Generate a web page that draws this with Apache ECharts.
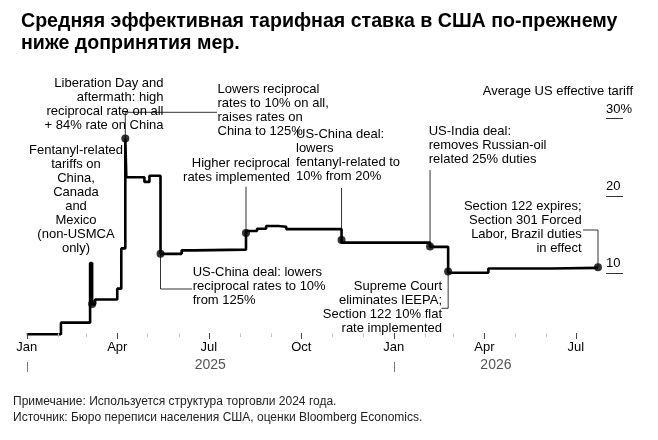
<!DOCTYPE html>
<html><head><meta charset="utf-8">
<script src="https://cdn.jsdelivr.net/npm/echarts@6/dist/echarts.min.js"></script>
<style>html,body{margin:0;padding:0;background:#fff}#c{width:658px;height:440px}</style>
</head><body><div id="c"></div>
<script>
// ---- DATA ----
const stepDates = ['2025-01-01','2025-02-04','2025-03-05','2025-03-07','2025-03-10','2025-04-01','2025-04-05','2025-04-09','2025-04-10','2025-04-28','2025-05-03','2025-05-14','2025-06-04','2025-06-16','2025-08-07','2025-08-18','2025-08-27','2025-09-08','2025-09-16','2025-11-10','2026-02-06','2026-02-24','2026-04-05','2026-06-07','2026-07-23'];
const stepValues = [2.1,3.6,11.3,6.0,6.6,8.0,13.2,27.4,22.4,21.8,22.6,12.5,12.95,13.05,15.45,15.75,16.1,16.0,15.7,13.95,13.4,10.05,10.6,10.68,10.7];
const eventDates = ['2025-03-07','2025-04-09','2025-05-14','2025-08-07','2025-11-10','2026-02-06','2026-02-24','2026-07-23'];
const eventValues = [6.0,27.4,12.5,15.2,14.3,13.45,10.2,10.75];
const xStart = '2025-01-01', xEnd = '2026-07-23';
const quarterTicks = ['2025-01-01','2025-04-01','2025-07-01','2025-10-01','2026-01-01','2026-04-01','2026-07-01'];
const quarterLabels = ['Jan','Apr','Jul','Oct','Jan','Apr','Jul'];
const monthTicks = ['2025-01-01','2025-02-01','2025-03-01','2025-04-01','2025-05-01','2025-06-01','2025-07-01','2025-08-01','2025-09-01','2025-10-01','2025-11-01','2025-12-01','2026-01-01','2026-02-01','2026-03-01','2026-04-01','2026-05-01','2026-06-01','2026-07-01'];
const yearStarts = ['2025-01-01','2026-01-01'];
const yearEnds = ['2026-01-01','2027-01-01'];
const yearLabels = ['2025','2026'];
const yTicks = [10,20,30];
const yTickLabels = ['10','20','30%'];

const titleText = 'Средняя эффективная тарифная ставка в США по-прежнему\nниже допринятия мер.';
const footText = 'Примечание: Используется структура торговли 2024 года.\nИсточник: Бюро переписи населения США, оценки Bloomberg Economics.';
const axisTitle = 'Average US effective tariff';

const notes = [
  {text:'Liberation Day and\naftermath: high\nreciprocal rate on all\n+ 84% rate on China', x:163.5, y:76.3, align:'right'},
  {text:'Fentanyl-related\ntariffs on\nChina,\nCanada\nand\nMexico\n(non-USMCA\nonly)', x:76, y:143, align:'center'},
  {text:'Lowers reciprocal\nrates to 10% on all,\nraises rates on\nChina to 125%', x:217.5, y:82.3, align:'left', ev:1, bendY:112.3, endX:217},
  {text:'US-China deal: lowers\nreciprocal rates to 10%\nfrom 125%', x:192.7, y:265.3, align:'left', ev:2, bendY:289, endX:192},
  {text:'Higher reciprocal\nrates implemented', x:290, y:156.3, align:'right', ev:3, bendY:186.7},
  {text:'US-China deal:\nlowers\nfentanyl-related to\n10% from 20%', x:296, y:127, align:'left', ev:4, bendY:188},
  {text:'US-India deal:\nremoves Russian-oil\nrelated 25% duties', x:428.7, y:124.7, align:'left', ev:5, bendY:170},
  {text:'Supreme Court\neliminates IEEPA;\nSection 122 10% flat\nrate implemented', x:442, y:279.7, align:'right', ev:6, bendY:308.3, endX:441.5},
  {text:'Section 122 expires;\nSection 301 Forced\nLabor, Brazil duties\nin effect', x:581.7, y:199.7, align:'right', ev:7, bendY:230, endX:583}
];

// ---- CHART ----
const FONT = "'Liberation Sans', Arial, Helvetica, sans-serif";
const P = s => { const [y,m,d] = s.split('-').map(Number); return Date.UTC(y, m-1, d); };
const yearMids = yearStarts.map((s,i)=> (Math.max(P(s),P(xStart)) + Math.min(P(yearEnds[i]),P(xEnd)))/2);
const qT = quarterTicks.map(P), mT = monthTicks.map(P), yS = yearStarts.map(P);
const PAD = 3600e3;

const chart = echarts.init(document.getElementById('c'), null, {renderer:'canvas'});
const baseX = () => ({type:'value', gridIndex:0, position:'bottom', min:P(xStart)-PAD, max:P(xEnd), scale:true,
  axisLine:{show:false}, splitLine:{show:false}, axisPointer:{show:false}});

chart.setOption({
  animation:false,
  backgroundColor:'#fff',
  title:{text:titleText, left:16, top:6, textStyle:{fontFamily:FONT, fontSize:19.6, fontWeight:'bold', color:'#000', lineHeight:22}},
  grid:{left:26.7, right:60, top:118.5, bottom:89.5, containLabel:false},
  xAxis:[
    Object.assign(baseX(), {offset:-17.2,
      axisTick:{show:false},
      axisLabel:{show:true, margin:8, fontFamily:FONT, fontSize:13, color:'#000', customValues:qT,
        formatter:(v)=>{const i=qT.indexOf(v); return i>=0?quarterLabels[i]:'';}}}),
    Object.assign(baseX(), {offset:0,
      axisTick:{show:false},
      axisLabel:{show:true, margin:8, fontFamily:FONT, fontSize:14, color:'#555', customValues:yearMids,
        formatter:(v)=>{const i=yearMids.indexOf(v); return i>=0?yearLabels[i]:'';}}})
  ],
  yAxis:[{type:'value', position:'right', offset:8, min:0, max:30,
    axisLine:{show:false}, splitLine:{show:false},
    axisTick:{show:true, length:17, lineStyle:{color:'#333', width:1}, customValues:yTicks},
    axisLabel:{show:true, margin:0, align:'left', verticalAlign:'bottom', padding:[0,0,3,0], fontFamily:FONT, fontSize:13, color:'#000', customValues:yTicks,
      formatter:(v)=>{const i=yTicks.indexOf(v); return i>=0?yTickLabels[i]:'';}}
  }],
  series:[
    {type:'line', xAxisIndex:0, yAxisIndex:0, step:'end', showSymbol:false, symbol:'none', clip:false,
      lineStyle:{color:'#000', width:2.6}, data:stepDates.map((d,i)=>[P(d), stepValues[i]]), z:3},
    {type:'scatter', xAxisIndex:0, yAxisIndex:0, symbol:'circle', symbolSize:8, clip:false,
      itemStyle:{color:'#000'}, data:eventDates.map((d,i)=>[P(d), eventValues[i]]), z:5}
  ]
});

const g = [];
const toPx = (t, v) => chart.convertToPixel({xAxisIndex:0, yAxisIndex:0}, [t, v]);
// axis tick marks placed via the x scale
const addTicks = (vals, dy0, dy1, color, w) => vals.forEach(t => {
  const p = toPx(t, 0); const x = Math.round(p[0]) + 0.5;
  g.push({type:'line', z:20, zlevel:0, shape:{x1:x, y1:p[1]+dy0, x2:x, y2:p[1]+dy1}, style:{stroke:color, lineWidth:w||1}});
});
addTicks(mT, -17, -13.5, '#c4c4c4');
addTicks(qT, -17.5, -11.5, '#444');
addTicks(yS, 11.5, 21.5, '#777');

// annotations + leaders anchored on event dots
notes.forEach(n=>{
  g.push({type:'text', z:10, style:{text:n.text, x:n.x, y:n.y, align:n.align, verticalAlign:'top',
    font:'13px '+FONT, lineHeight:14, fill:'#000'}});
  if (n.ev !== undefined) {
    const p = toPx(P(eventDates[n.ev]), eventValues[n.ev]);
    const pts = [[p[0], p[1]], [p[0], n.bendY]];
    if (n.endX !== undefined) pts.push([n.endX, n.bendY]);
    g.push({type:'polyline', z:2, shape:{points:pts}, style:{stroke:'#333', lineWidth:1, fill:null}});
  }
});
g.push({type:'text', z:10, style:{text:axisTitle, x:633, y:85, align:'right', verticalAlign:'top', font:'13px '+FONT, fill:'#000'}});
g.push({type:'text', z:10, style:{text:footText, x:13, y:394, align:'left', verticalAlign:'top', font:'12px '+FONT, lineHeight:16, fill:'#222'}});
chart.setOption({graphic:g});
</script>
</body></html>
